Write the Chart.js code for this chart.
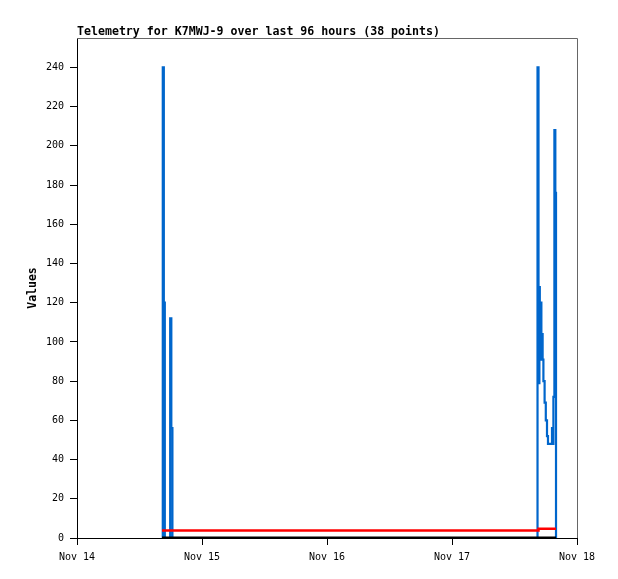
<!DOCTYPE html>
<html lang="en">
<head>
<meta charset="UTF-8">
<title>Telemetry for K7MWJ-9</title>
<script src="https://cdn.jsdelivr.net/npm/chart.js"></script>
<style>
    body { margin: 0; background: #fff; }
    #wrap { width: 618px; height: 579px; }
</style>
</head>
<body>
<div id="wrap"><canvas id="chartCanvas"></canvas></div>
<script>
    // hours since Nov 14 00:00
    const hours = [16.32, 16.47, 16.67, 16.86, 17.89, 18.11, 18.32,
        88.32, 88.42, 88.61, 88.70, 88.78, 88.86, 88.93, 89.01, 89.09, 89.16,
        89.28, 89.40, 89.55, 89.78, 90.01, 90.24, 90.43, 91.20, 91.35, 91.47,
        91.66, 91.84, 91.97];
    const blueValues = [0, 240, 120, 0, 112, 56, 0,
        0, 240, 120, 79, 128, 96, 120, 104, 120, 91,
        104, 91, 80, 69, 60, 52, 48, 56, 48, 72,
        208, 176, 0];
    const redValues = [3.8, 3.8, 3.8, 3.8, 3.8, 3.8, 3.8,
        3.8, 3.8, 4.7, 4.7, 4.7, 4.7, 4.7, 4.7, 4.7, 4.7,
        4.7, 4.7, 4.7, 4.7, 4.7, 4.7, 4.7, 4.7, 4.7, 4.7,
        4.7, 4.7, 4.7];
    const blackValues = hours.map(() => 0);
    const dayLabels = ['Nov 14', 'Nov 15', 'Nov 16', 'Nov 17', 'Nov 18'];
    const titleText = 'Telemetry for K7MWJ-9 over last 96 hours (38 points)';

    const mono = "'DejaVu Sans Mono', 'Liberation Mono', monospace";

    function pts(vals) {
        return hours.map((h, i) => ({ x: h, y: vals[i] }));
    }

    // gray frame + title
    const framePlugin = {
        id: 'frame',
        beforeDatasetsDraw(chart) {
            const { ctx, chartArea: a } = chart;
            ctx.save();
            ctx.strokeStyle = '#666';
            ctx.lineWidth = 1;
            ctx.beginPath();
            ctx.moveTo(a.left, a.top + 0.5);
            ctx.lineTo(a.right + 0.5, a.top + 0.5);
            ctx.lineTo(a.right + 0.5, a.bottom);
            ctx.stroke();
            ctx.restore();
        },
        afterDraw(chart) {
            const { ctx, chartArea: a } = chart;
            ctx.save();
            ctx.fillStyle = '#000';
            ctx.font = 'bold 11.6px ' + mono;
            ctx.textBaseline = 'alphabetic';
            ctx.fillText(titleText, a.left, 35);
            ctx.restore();
        }
    };

    const ds = (label, vals, color, width) => ({
        label, data: pts(vals), borderColor: color, borderWidth: width,
        stepped: 'before', pointRadius: 0, fill: false, tension: 0
    });

    new Chart(document.getElementById('chartCanvas'), {
        type: 'line',
        data: {
            datasets: [
                ds('black', blackValues, '#000000', 3),
                ds('red', redValues, '#ff0000', 2.5),
                ds('blue', blueValues, '#0066cc', 2.2)
            ]
        },
        options: {
            responsive: true,
            maintainAspectRatio: false,
            animation: false,
            layout: { padding: { top: 38, right: 41, left: 0, bottom: 0 } },
            plugins: { legend: { display: false }, tooltip: { enabled: false } },
            scales: {
                x: {
                    type: 'linear', min: 0, max: 96,
                    afterFit: s => { s.height = 41; },
                    grid: { drawOnChartArea: false, color: '#000', tickLength: 7 },
                    border: { color: '#000' },
                    ticks: {
                        stepSize: 24, autoSkip: false, maxRotation: 0,
                        color: '#000', font: { family: mono, size: 10 }, padding: 6,
                        callback: v => dayLabels[v / 24]
                    }
                },
                y: {
                    min: 0, max: 255,
                    afterFit: s => { s.width = 77; },
                    grid: { drawOnChartArea: false, color: '#000', tickLength: 7 },
                    border: { color: '#000' },
                    title: {
                        display: true, text: 'Values', color: '#000',
                        font: { family: mono, size: 11.5, weight: 'bold' },
                        padding: { top: 26, bottom: 0 }
                    },
                    ticks: {
                        stepSize: 20, includeBounds: false, color: '#000',
                        font: { family: mono, size: 10 }, padding: 6
                    }
                }
            }
        },
        plugins: [framePlugin]
    });
</script>
</body>
</html>
